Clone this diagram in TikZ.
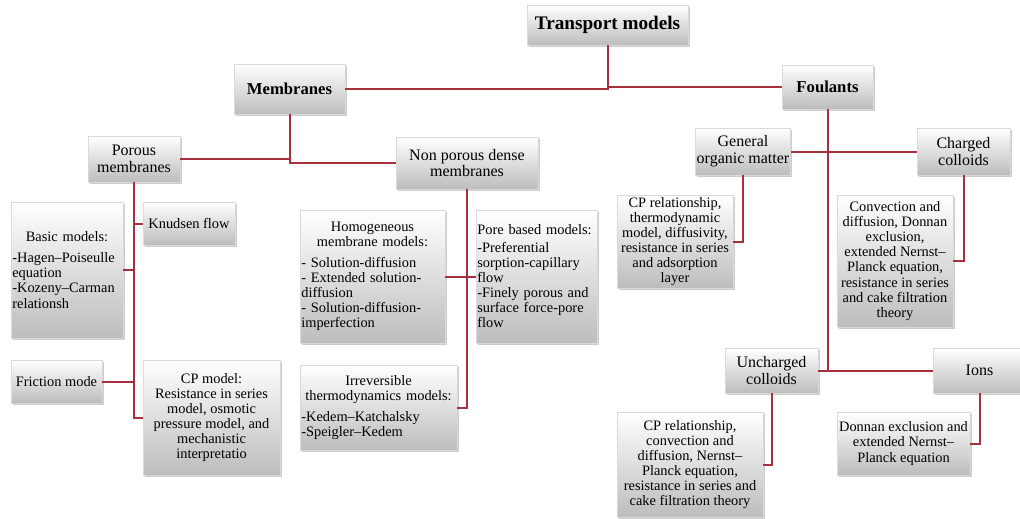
\documentclass[tikz,border=0pt]{standalone}
\usepackage{fontspec}
\setmainfont{Liberation Serif}
\usepackage{xcolor}
\usepackage{tikz}
\usetikzlibrary{positioning,shadows}

\definecolor{linkred}{RGB}{168,48,62}

\begin{document}
\begin{tikzpicture}[x=0.75pt, y=-0.75pt,
  box/.style={inner sep=1pt, top color=white, bottom color=black!26, draw=black!15, line width=0.3pt,
    drop shadow={shadow xshift=1.2pt, shadow yshift=-1.8pt, opacity=0.4}, align=center,
    font=\fontsize{10.8}{11.3}\selectfont},
  head/.style={box, font=\fontsize{12.5}{13}\selectfont\bfseries},
  sub/.style={box, font=\fontsize{12}{12.5}\selectfont},
  link/.style={draw=linkred, line width=1.5pt}]

\useasboundingbox (0,0) rectangle (1020,518);

% Top level
\node[head, font=\fontsize{14.4}{15}\selectfont\bfseries, minimum width=120.75pt, minimum height=30pt] (tm) at (607.5,25) {Transport models};
\node[head, minimum width=83.25pt, minimum height=37.5pt] (mem) at (289.5,89) {Membranes};
\node[head, minimum width=68.25pt, minimum height=33pt] (foul) at (827.5,87) {Foulants};

% Membranes
\node[sub, minimum width=69pt, minimum height=34.5pt] (por) at (134,159) {Porous\\membranes};
\node[sub, minimum width=106.5pt, minimum height=39pt] (npd) at (467,163) {Non porous dense\\membranes};

% Porous membrane models
\node[box, text width=82pt, align=left, minimum height=102pt] (basic) at (67,270)
  {\makebox[\linewidth]{Basic models:}\\[4.5pt]-Hagen–Poiseulle\\equation\\-Kozeny–Carman\\relationsh};
\node[box, minimum width=69pt, minimum height=32.25pt] (knud) at (189,223.5) {Knudsen flow};
\node[box, minimum width=68.25pt, minimum height=32.25pt] (fric) at (56.5,381.5) {Friction mode};
\node[box, minimum width=102.75pt, minimum height=86.25pt] (cpm) at (211.5,417.5)
  {CP model:\\Resistance in series\\model, osmotic\\pressure model, and\\mechanistic\\interpretatio};

% Dense membrane models
\node[box, text width=106.75pt, align=left, minimum height=99.75pt] (homo) at (372.5,276.5)
  {\makebox[\linewidth]{Homogeneous}\\\makebox[\linewidth]{membrane models:}\\[4.5pt]- Solution-diffusion\\- Extended solution-\\diffusion\\- Solution-diffusion-\\imperfection};
\node[box, text width=88.75pt, align=left, minimum height=99.75pt] (pore) at (536.5,276.5)
  {Pore based models:\\[2pt]-Preferential\\sorption-capillary\\flow\\-Finely porous and\\surface force-pore\\flow};
\node[box, text width=115.75pt, align=left, minimum height=63.75pt] (irr) at (378.5,407.5)
  {\makebox[\linewidth]{Irreversible}\\\makebox[\linewidth]{thermodynamics models:}\\[4.5pt]-Kedem–Katchalsky\\-Speigler–Kedem};

% Foulants
\node[sub, minimum width=69pt, minimum height=35.25pt] (gom) at (743,151.5) {General\\organic matter};
\node[sub, minimum width=69.75pt, minimum height=35.25pt] (chc) at (963.5,151.5) {Charged\\colloids};
\node[sub, minimum width=69.75pt, minimum height=33.75pt] (unc) at (771.5,370.5) {Uncharged\\colloids};
\node[sub, minimum width=69.75pt, minimum height=33.75pt] (ions) at (979.5,370.5) {Ions};

% Foulant models
\node[box, minimum width=87pt, minimum height=69.75pt] (cpg) at (675,241.5)
  {CP relationship,\\thermodynamic\\model, diffusivity,\\resistance in series\\and adsorption\\layer};
\node[box, minimum width=87pt, minimum height=99pt] (cdd) at (895,261)
  {Convection and\\diffusion, Donnan\\exclusion,\\extended Nernst–\\Planck equation,\\resistance in series\\and cake filtration\\theory};
\node[box, minimum width=109.5pt, minimum height=78.75pt] (cpu) at (690,464.5)
  {CP relationship,\\convection and\\diffusion, Nernst–\\Planck equation,\\resistance in series and\\cake filtration theory};
\node[box, minimum width=99.75pt, minimum height=47.25pt] (don) at (903.5,443.5)
  {Donnan exclusion and\\extended Nernst–\\Planck equation};

% Links
\draw[link] (tm.south) |- (mem.east);
\draw[link] (tm.south) |- (foul.west);
\draw[link] (mem.south) |- (por.east);
\draw[link] (mem.south) |- (npd.west);
\draw[link] (por.south) |- (cpm.west);
\draw[link] (knud.west) -- (por.south |- knud.west);
\draw[link] (basic.east) -- (por.south |- basic.east);
\draw[link] (fric.east) -- (por.south |- fric.east);
\draw[link] (npd.south) |- (irr.east);
\draw[link] (homo.east) -- (pore.west);
\draw[link] (foul.south) -- (foul.south |- unc.east);
\draw[link] (gom.east) -- (chc.west);
\draw[link] (unc.east) -- (ions.west);
\draw[link] (gom.south) |- (cpg.east);
\draw[link] (chc.south) |- (cdd.east);
\draw[link] (unc.south) |- (cpu.east);
\draw[link] (ions.south) |- (don.east);

\end{tikzpicture}
\end{document}
